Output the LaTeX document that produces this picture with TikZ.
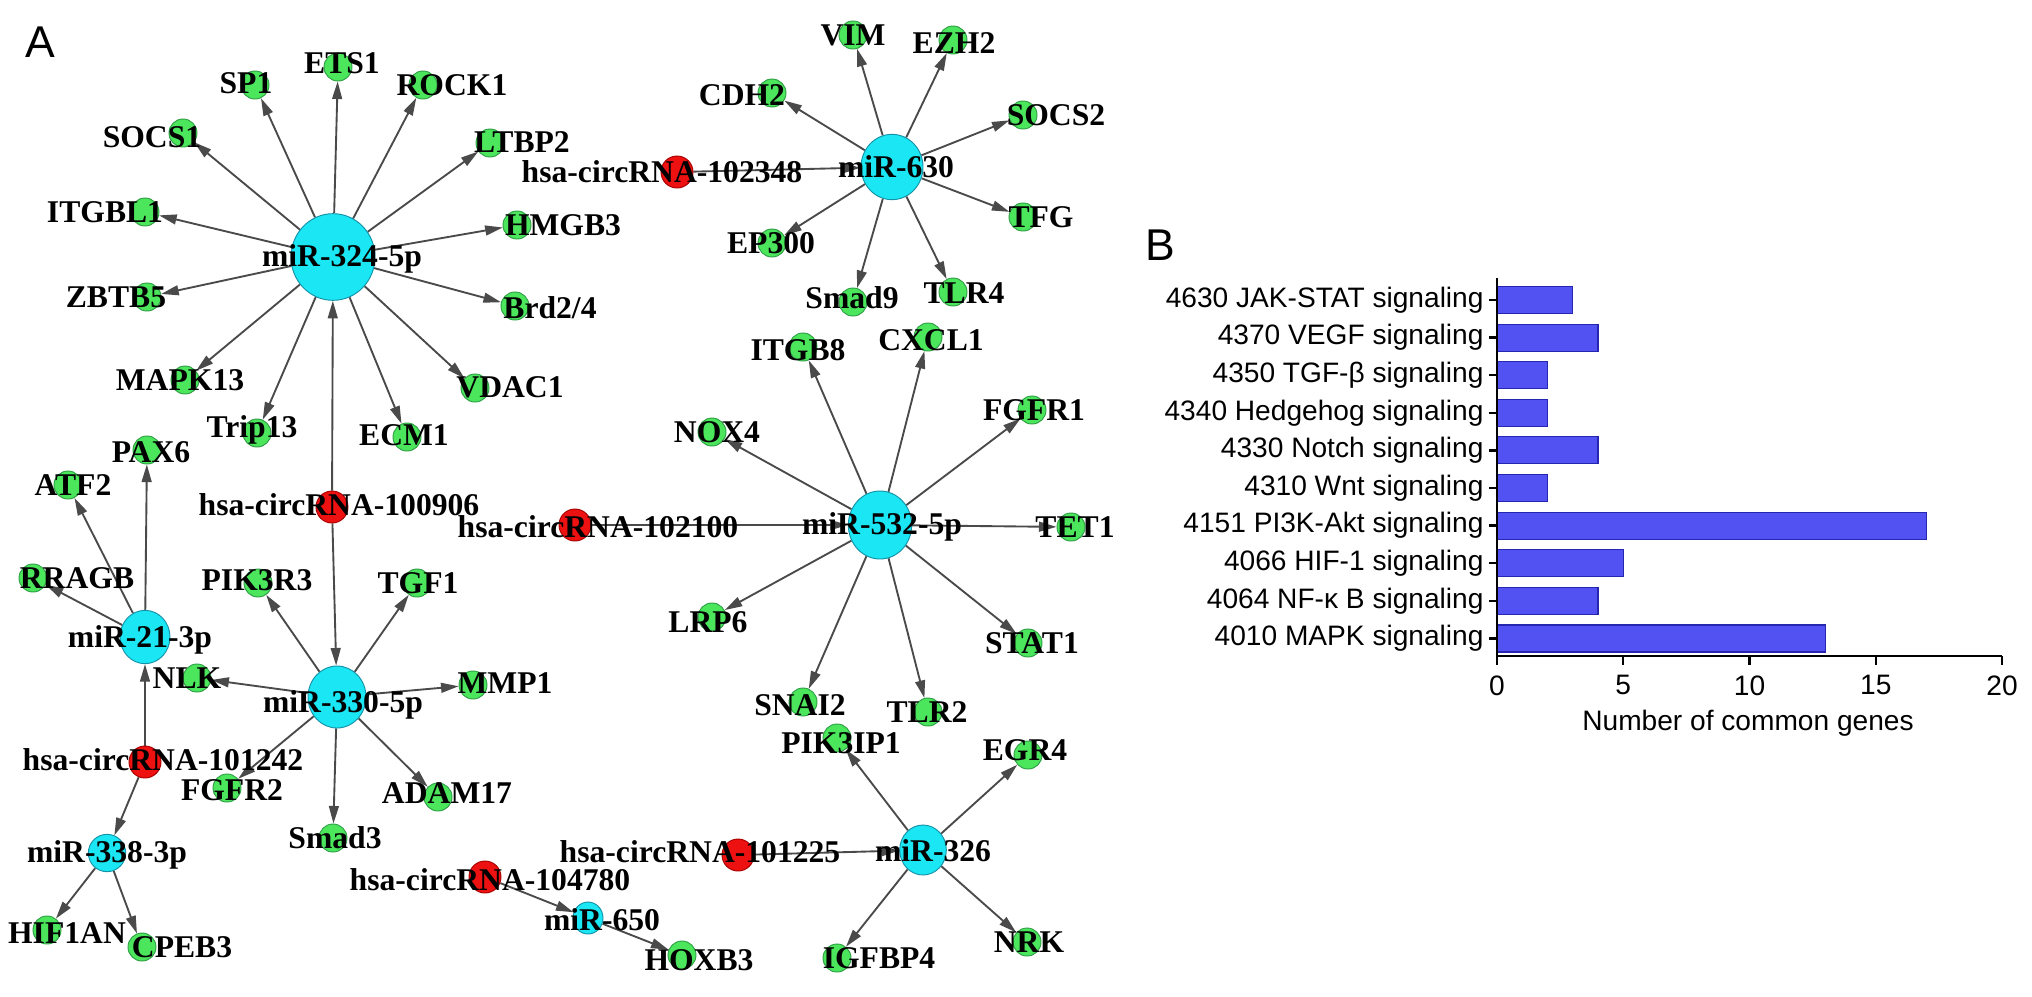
\documentclass[tikz,border=0pt]{standalone}
\usepackage{fontspec}
\setmainfont{Liberation Serif}
\setsansfont{Liberation Sans}
\usepackage{tikz}
\usetikzlibrary{arrows.meta,shapes.geometric}
\definecolor{genefill}{HTML}{4BE65C}
\definecolor{geneline}{HTML}{2E9E45}
\definecolor{circfill}{HTML}{EE1111}
\definecolor{circline}{HTML}{A80000}
\definecolor{mirfill}{HTML}{1AE6F4}
\definecolor{mirline}{HTML}{1592A8}
\definecolor{edgegray}{HTML}{4A4A4A}
\definecolor{barfill}{HTML}{5252F2}
\definecolor{barline}{HTML}{2626B0}
\pgfdeclarelayer{background}
\pgfsetlayers{background,main}
\tikzset{
  ar/.style={-{Triangle[length=7.5pt,width=4.2pt]},line width=0.8pt,edgegray},
  gene/.style={circle,draw=geneline,fill=genefill,inner sep=0pt,minimum size=0.42cm},
  circ/.style={circle,draw=circline,fill=circfill,inner sep=0pt,minimum size=0.48cm},
  mir/.style={ellipse,draw=mirline,fill=mirfill,inner sep=0pt},
  lab/.style={font=\fontsize{13.5}{14}\selectfont\bfseries,inner sep=0pt},
  panel/.style={font=\sffamily\fontsize{19}{21}\selectfont,inner sep=0pt},
  blab/.style={font=\sffamily\fontsize{12}{13}\selectfont,inner sep=0pt},
  ax/.style={line width=1pt,black},
  bar/.style={draw=barline,fill=barfill,line width=0.5pt}
}

\begin{document}
\begin{tikzpicture}[x=0.015cm,y=-0.015cm]
\useasboundingbox (0,0) rectangle (2032,996);
\node[panel] (pa) at (40,42) {A};
\node[panel] (pb) at (1160,245) {B};

% miRNA hubs
\node[mir,minimum width=1.26cm,minimum height=1.3cm] (m324) at (333,257) {};
\node[mir,minimum width=0.93cm,minimum height=0.98cm] (m630) at (892,167) {};
\node[mir,minimum width=0.95cm,minimum height=1.02cm] (m532) at (880,525) {};
\node[mir,minimum width=0.87cm,minimum height=0.93cm] (m330) at (337,697) {};
\node[mir,minimum width=0.75cm,minimum height=0.8cm] (m21) at (145,637) {};
\node[mir,minimum width=0.7cm,minimum height=0.75cm] (m326) at (923,850) {};
\node[mir,minimum width=0.56cm,minimum height=0.56cm] (m338) at (107,853) {};
\node[mir,minimum width=0.45cm,minimum height=0.48cm] (m650) at (588,918) {};

% circRNAs
\node[circ] (c100906) at (332,507) {};
\node[circ] (c102348) at (677,172) {};
\node[circ] (c102100) at (575,525) {};
\node[circ] (c101242) at (145,762) {};
\node[circ] (c104780) at (485,877) {};
\node[circ] (c101225) at (738,855) {};

% target genes
\node[gene] (sp1) at (255,85) {};
\node[gene] (ets1) at (338,67) {};
\node[gene] (rock1) at (423,85) {};
\node[gene] (socs1) at (183,133) {};
\node[gene] (ltbp2) at (490,143) {};
\node[gene] (itgbl1) at (145,212) {};
\node[gene] (hmgb3) at (517,225) {};
\node[gene] (zbtb5) at (147,297) {};
\node[gene] (brd) at (515,306) {};
\node[gene] (mapk13) at (185,380) {};
\node[gene] (vdac1) at (475,388) {};
\node[gene] (trip13) at (257,433) {};
\node[gene] (ecm1) at (407,437) {};
\node[gene] (pax6) at (147,450) {};
\node[gene] (atf2) at (68,485) {};
\node[gene] (rragb) at (33,578) {};
\node[gene] (pik3r3) at (258,583) {};
\node[gene] (tgf1) at (417,583) {};
\node[gene] (nlk) at (197,678) {};
\node[gene] (mmp1) at (473,685) {};
\node[gene] (fgfr2) at (227,788) {};
\node[gene] (adam17) at (438,797) {};
\node[gene] (smad3) at (333,838) {};
\node[gene] (hif1an) at (47,930) {};
\node[gene] (cpeb3) at (142,947) {};
\node[gene] (hoxb3) at (682,955) {};
\node[gene] (vim) at (853,35) {};
\node[gene] (ezh2) at (953,40) {};
\node[gene] (cdh2) at (772,93) {};
\node[gene] (socs2) at (1023,115) {};
\node[gene] (tfg) at (1023,217) {};
\node[gene] (ep300) at (772,243) {};
\node[gene] (smad9) at (853,302) {};
\node[gene] (tlr4) at (953,292) {};
\node[gene] (itgb8) at (803,347) {};
\node[gene] (cxcl1) at (928,337) {};
\node[gene] (nox4) at (712,432) {};
\node[gene] (fgfr1) at (1032,410) {};
\node[gene] (tet1) at (1071,527) {};
\node[gene] (lrp6) at (712,617) {};
\node[gene] (stat1) at (1028,643) {};
\node[gene] (snai2) at (803,702) {};
\node[gene] (tlr2) at (928,712) {};
\node[gene] (pik3ip1) at (837,738) {};
\node[gene] (egr4) at (1028,755) {};
\node[gene] (igfbp4) at (837,958) {};
\node[gene] (nrk) at (1027,942) {};

% interactions
\begin{pgfonlayer}{background}
\draw[ar] (m324) edge (sp1) edge (ets1) edge (rock1) edge (socs1) edge (ltbp2)
  edge (itgbl1) edge (hmgb3) edge (zbtb5) edge (brd) edge (mapk13) edge (vdac1)
  edge (trip13) edge (ecm1);
\draw[ar] (c100906) edge (m324) edge (m330);
\draw[ar] (m630) edge (vim) edge (ezh2) edge (cdh2) edge (socs2) edge (tfg)
  edge (ep300) edge (smad9) edge (tlr4);
\draw[ar] (c102348) edge (m630);
\draw[ar] (m532) edge (itgb8) edge (cxcl1) edge (nox4) edge (fgfr1) edge (tet1)
  edge (lrp6) edge (stat1) edge (snai2) edge (tlr2);
\draw[ar] (c102100) edge (m532);
\draw[ar] (m330) edge (nlk) edge (pik3r3) edge (tgf1) edge (mmp1) edge (fgfr2)
  edge (adam17) edge (smad3);
\draw[ar] (m21) edge (pax6) edge (atf2) edge (rragb);
\draw[ar] (c101242) edge (m21) edge (m338);
\draw[ar] (m338) edge (hif1an) edge (cpeb3);
\draw[ar] (m326) edge (pik3ip1) edge (egr4) edge (igfbp4) edge (nrk);
\draw[ar] (c101225) edge (m326);
\draw[ar] (c104780) edge (m650);
\draw[ar] (m650) edge (hoxb3);
\end{pgfonlayer}

% labels
\node[lab] (l324) at (342,259) {miR-324-5p};
\node[lab] (l630) at (896,167) {miR-630};
\node[lab] (l532) at (882,527) {miR-532-5p};
\node[lab] (l330) at (343,705) {miR-330-5p};
\node[lab] (l21) at (140,640) {miR-21-3p};
\node[lab] (l326) at (933,851) {miR-326};
\node[lab] (l338) at (107,855) {miR-338-3p};
\node[lab] (l650) at (602,920) {miR-650};
\node[lab] (lc100906) at (339,505) {hsa-circRNA-100906};
\node[lab] (lc102348) at (662,172) {hsa-circRNA-102348};
\node[lab] (lc102100) at (598,527) {hsa-circRNA-102100};
\node[lab] (lc101242) at (163,760) {hsa-circRNA-101242};
\node[lab] (lc104780) at (490,880) {hsa-circRNA-104780};
\node[lab] (lc101225) at (700,852) {hsa-circRNA-101225};
\node[lab] (lsp1) at (246,83) {SP1};
\node[lab] (lets1) at (342,63) {ETS1};
\node[lab] (lrock1) at (452,85) {ROCK1};
\node[lab] (lsocs1) at (152,137) {SOCS1};
\node[lab] (lltbp2) at (522,142) {LTBP2};
\node[lab] (litgbl1) at (105,212) {ITGBL1};
\node[lab] (lhmgb3) at (563,225) {HMGB3};
\node[lab] (lzbtb5) at (116,297) {ZBTB5};
\node[lab] (lbrd) at (550,308) {Brd2/4};
\node[lab] (lmapk13) at (180,380) {MAPK13};
\node[lab] (lvdac1) at (510,387) {VDAC1};
\node[lab] (ltrip13) at (252,430) {Trip13};
\node[lab] (lecm1) at (404,435) {ECM1};
\node[lab] (lpax6) at (151,452) {PAX6};
\node[lab] (latf2) at (73,485) {ATF2};
\node[lab] (lrragb) at (77,578) {RRAGB};
\node[lab] (lpik3r3) at (257,580) {PIK3R3};
\node[lab] (ltgf1) at (418,583) {TGF1};
\node[lab] (lnlk) at (187,678) {NLK};
\node[lab] (lmmp1) at (505,683) {MMP1};
\node[lab] (lfgfr2) at (232,790) {FGFR2};
\node[lab] (ladam17) at (447,793) {ADAM17};
\node[lab] (lsmad3) at (335,838) {Smad3};
\node[lab] (lhif1an) at (67,933) {HIF1AN};
\node[lab] (lcpeb3) at (182,947) {CPEB3};
\node[lab] (lhoxb3) at (699,960) {HOXB3};
\node[lab] (lvim) at (853,35) {VIM};
\node[lab] (lezh2) at (954,43) {EZH2};
\node[lab] (lcdh2) at (742,95) {CDH2};
\node[lab] (lsocs2) at (1056,115) {SOCS2};
\node[lab] (ltfg) at (1041,217) {TFG};
\node[lab] (lep300) at (771,243) {EP300};
\node[lab] (lsmad9) at (852,298) {Smad9};
\node[lab] (ltlr4) at (964,293) {TLR4};
\node[lab] (litgb8) at (798,350) {ITGB8};
\node[lab] (lcxcl1) at (931,340) {CXCL1};
\node[lab] (lnox4) at (717,432) {NOX4};
\node[lab] (lfgfr1) at (1034,410) {FGFR1};
\node[lab] (ltet1) at (1075,527) {TET1};
\node[lab] (llrp6) at (708,622) {LRP6};
\node[lab] (lstat1) at (1032,643) {STAT1};
\node[lab] (lsnai2) at (800,705) {SNAI2};
\node[lab] (ltlr2) at (927,712) {TLR2};
\node[lab] (lpik3ip1) at (841,743) {PIK3IP1};
\node[lab] (legr4) at (1025,750) {EGR4};
\node[lab] (ligfbp4) at (879,958) {IGFBP4};
\node[lab] (lnrk) at (1029,942) {NRK};

% panel B: KEGG pathways
\foreach \i/\v/\t in {1/3/{4630 JAK-STAT signaling},2/4/{4370 VEGF signaling},
  3/2/{4350 TGF-β signaling},4/2/{4340 Hedgehog signaling},5/4/{4330 Notch signaling},
  6/2/{4310 Wnt signaling},7/17/{4151 PI3K-Akt signaling},8/5/{4066 HIF-1 signaling},
  9/4/{4064 NF-κ B signaling},10/13/{4010 MAPK signaling}}{
  \pgfmathsetmacro{\yc}{300+37.6*(\i-1)}
  \draw[bar] (1497,\yc-13.5) rectangle ({1497+25.25*\v},\yc+13.5);
  \draw[ax] (1489,\yc) -- (1497,\yc);
  \node[blab,anchor=east] (kegg\i) at (1484,\yc) {\t};
}
\draw[ax] (1497,278) -- (1497,656) -- (2002,656);
\foreach \v in {0,5,10,15,20}{
  \draw[ax] ({1497+25.25*\v},656) -- ({1497+25.25*\v},665);
  \node[blab,anchor=north] (tick\v) at ({1497+25.25*\v},675) {\v};
}
\node[blab] (xtitle) at (1748,723) {Number of common genes};
\end{tikzpicture}
\end{document}
